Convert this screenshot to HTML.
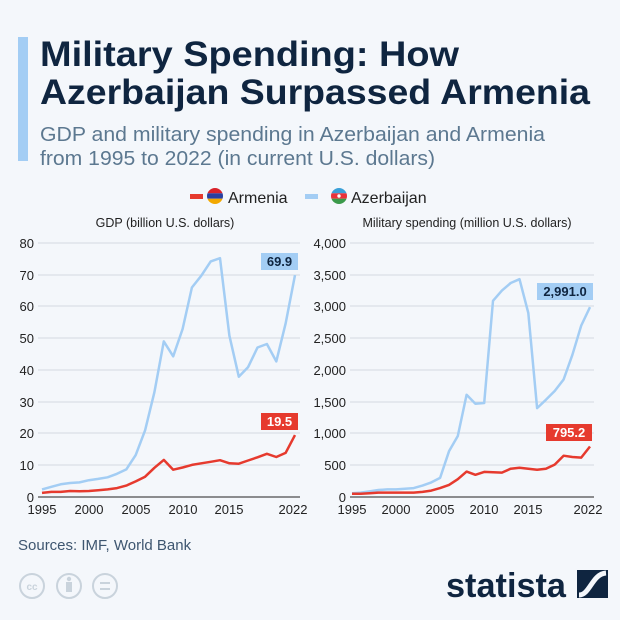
<!DOCTYPE html>
<html><head><meta charset="utf-8"><style>
body{margin:0;background:#f4f7fb;}
svg{display:block;font-family:"Liberation Sans",sans-serif;}
</style></head><body>
<svg width="620" height="620" viewBox="0 0 620 620">
<defs>
<clipPath id="ca"><circle cx="215" cy="196" r="8"/></clipPath>
<clipPath id="cz"><circle cx="339" cy="196" r="8"/></clipPath>
</defs>
<rect width="620" height="620" fill="#f4f7fb"/>
<rect x="18" y="37" width="10" height="124" fill="#a3cdf4"/>
<text x="40" y="66" font-size="35" font-weight="bold" fill="#0f2540" textLength="419" lengthAdjust="spacingAndGlyphs">Military Spending: How</text>
<text x="40" y="104" font-size="35" font-weight="bold" fill="#0f2540" textLength="550" lengthAdjust="spacingAndGlyphs">Azerbaijan Surpassed Armenia</text>
<text x="40" y="141" font-size="20" fill="#5c7890" textLength="505" lengthAdjust="spacingAndGlyphs">GDP and military spending in Azerbaijan and Armenia</text>
<text x="40" y="165" font-size="20" fill="#5c7890" textLength="395" lengthAdjust="spacingAndGlyphs">from 1995 to 2022 (in current U.S. dollars)</text>
<rect x="190" y="194" width="13" height="5" fill="#e63a2e"/>
<g clip-path="url(#ca)"><rect x="207" y="188" width="16" height="5.3" fill="#d9222a"/><rect x="207" y="193.3" width="16" height="5.4" fill="#2a3fa0"/><rect x="207" y="198.7" width="16" height="5.3" fill="#f2a800"/></g>
<text x="228" y="203" font-size="16" fill="#222">Armenia</text>
<rect x="305" y="194" width="13" height="5" fill="#a3cdf4"/>
<g clip-path="url(#cz)"><rect x="331" y="188" width="16" height="5.3" fill="#3aa0d8"/><rect x="331" y="193.3" width="16" height="5.4" fill="#e8323a"/><rect x="331" y="198.7" width="16" height="5.3" fill="#3b9a4a"/></g>
<circle cx="339" cy="196" r="1.7" fill="#fff"/>
<text x="351" y="203" font-size="16" fill="#222">Azerbaijan</text>
<text x="165" y="227" font-size="12.5" fill="#222" text-anchor="middle">GDP (billion U.S. dollars)</text>
<text x="467" y="227" font-size="12.5" fill="#222" text-anchor="middle">Military spending (million U.S. dollars)</text>
<g stroke="#d4dae2" stroke-width="1">
<line x1="38" y1="243" x2="300" y2="243"/><line x1="38" y1="275" x2="300" y2="275"/><line x1="38" y1="306" x2="300" y2="306"/><line x1="38" y1="338" x2="300" y2="338"/><line x1="38" y1="370" x2="300" y2="370"/><line x1="38" y1="402" x2="300" y2="402"/><line x1="38" y1="433" x2="300" y2="433"/><line x1="38" y1="465" x2="300" y2="465"/>
<line x1="350" y1="243" x2="594" y2="243"/><line x1="350" y1="275" x2="594" y2="275"/><line x1="350" y1="306" x2="594" y2="306"/><line x1="350" y1="338" x2="594" y2="338"/><line x1="350" y1="370" x2="594" y2="370"/><line x1="350" y1="402" x2="594" y2="402"/><line x1="350" y1="433" x2="594" y2="433"/><line x1="350" y1="465" x2="594" y2="465"/>
</g>
<line x1="38" y1="497" x2="300" y2="497" stroke="#222"/>
<line x1="350" y1="497" x2="594" y2="497" stroke="#222"/>
<g font-size="13" fill="#222" text-anchor="end">
<text x="34" y="248">80</text><text x="34" y="280">70</text><text x="34" y="311">60</text><text x="34" y="343">50</text><text x="34" y="375">40</text><text x="34" y="407">30</text><text x="34" y="438">20</text><text x="34" y="470">10</text><text x="34" y="502">0</text>
<text x="346" y="248">4,000</text><text x="346" y="280">3,500</text><text x="346" y="311">3,000</text><text x="346" y="343">2,500</text><text x="346" y="375">2,000</text><text x="346" y="407">1,500</text><text x="346" y="438">1,000</text><text x="346" y="470">500</text><text x="346" y="502">0</text>
</g>
<g font-size="13" fill="#222" text-anchor="middle">
<text x="42" y="514">1995</text><text x="89" y="514">2000</text><text x="136" y="514">2005</text><text x="183" y="514">2010</text><text x="229" y="514">2015</text><text x="293" y="514">2022</text>
<text x="352" y="514">1995</text><text x="396" y="514">2000</text><text x="440" y="514">2005</text><text x="484" y="514">2010</text><text x="528" y="514">2015</text><text x="588" y="514">2022</text>
</g>
<g fill="none" stroke-width="2.5" stroke-linejoin="round">
<polyline id="l1" stroke="#a3cdf4" points=""/>
<polyline id="l2" stroke="#e63a2e" points=""/>
<polyline id="r1" stroke="#a3cdf4" points=""/>
<polyline id="r2" stroke="#e63a2e" points=""/>
</g>
<rect x="261" y="253" width="37" height="17" fill="#a3cdf4"/><text x="279.5" y="266" font-size="13" font-weight="bold" fill="#0f2540" text-anchor="middle">69.9</text>
<rect x="261" y="413" width="37" height="17" fill="#e63a2e"/><text x="279.5" y="426" font-size="13" font-weight="bold" fill="#fff" text-anchor="middle">19.5</text>
<rect x="537" y="283" width="56" height="17" fill="#a3cdf4"/><text x="565" y="296" font-size="13" font-weight="bold" fill="#0f2540" text-anchor="middle">2,991.0</text>
<rect x="546" y="424" width="46" height="17" fill="#e63a2e"/><text x="569" y="437" font-size="13" font-weight="bold" fill="#fff" text-anchor="middle">795.2</text>
<text x="18" y="550" font-size="15" fill="#3e5670">Sources: IMF, World Bank</text>
<g fill="none" stroke="#c9d3dc" stroke-width="2">
<circle cx="32" cy="586" r="12"/><circle cx="69" cy="586" r="12"/><circle cx="105" cy="586" r="12"/>
</g>
<text x="32" y="590" font-size="10" font-weight="bold" fill="#c9d3dc" text-anchor="middle">cc</text>
<circle cx="69" cy="579" r="2.2" fill="#c9d3dc"/><rect x="66" y="582" width="6" height="10" fill="#c9d3dc"/>
<rect x="100" y="582" width="10" height="2" fill="#c9d3dc"/><rect x="100" y="588" width="10" height="2" fill="#c9d3dc"/>
<text x="446" y="597" font-size="34" font-weight="bold" fill="#0f2540" textLength="120" lengthAdjust="spacingAndGlyphs">statista</text>
<rect x="577" y="570" width="31" height="28" fill="#0f2540"/>
<path d="M579 595 C590 595 592 574 606 573" stroke="#f4f7fb" stroke-width="5" fill="none"/>
</svg>
<script>
var gA=[1.3,1.6,1.6,1.9,1.8,1.9,2.1,2.4,2.8,3.6,4.9,6.4,9.2,11.7,8.6,9.3,10.1,10.6,11.1,11.6,10.6,10.5,11.5,12.5,13.6,12.6,13.9,19.5];
var gZ=[2.4,3.2,4.0,4.4,4.6,5.3,5.7,6.2,7.3,8.7,13.2,21,33,49,44.3,52.9,66,69.7,74.2,75.2,50.8,37.9,40.9,47.1,48.2,42.7,54.6,69.9];
var mA=[50,50,60,70,70,70,70,70,80,100,140,190,280,400,350,395,390,385,445,460,445,430,445,510,650,630,620,795];
var mZ=[60,70,90,110,120,120,130,140,180,230,300,720,960,1610,1470,1480,3090,3250,3370,3430,2900,1400,1530,1670,1850,2240,2700,2991];
function pts(d,x0,dx,s){return d.map(function(v,i){return (x0+i*dx).toFixed(1)+","+(497-v*s).toFixed(1)}).join(" ");}
document.getElementById("l1").setAttribute("points",pts(gZ,42,253/27,3.175));
document.getElementById("l2").setAttribute("points",pts(gA,42,253/27,3.175));
document.getElementById("r1").setAttribute("points",pts(mZ,352,238/27,0.0635));
document.getElementById("r2").setAttribute("points",pts(mA,352,238/27,0.0635));
</script>
</body></html>
